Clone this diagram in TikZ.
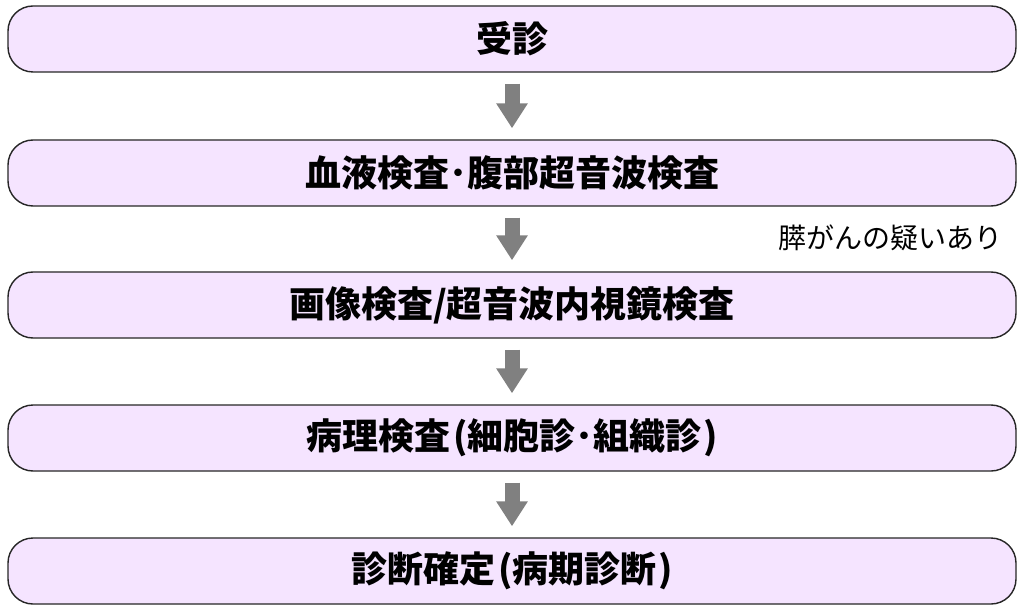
\documentclass[tikz,border=0pt]{standalone}
\usepackage{fontspec}
\setmainfont{Noto Sans CJK JP}
\usepackage{tikz}
\usetikzlibrary{arrows.meta}

\definecolor{stagefill}{RGB}{245,228,255}
\definecolor{flowgray}{RGB}{128,128,128}

\begin{document}
\begin{tikzpicture}[x=1pt, y=-1pt,
    stage/.style={draw=black!85, line width=1.4pt, fill=stagefill,
      rounded corners=25pt, minimum width=1008pt, minimum height=66pt,
      inner sep=0pt, font=\fontsize{36}{40}\selectfont\bfseries},
    flow/.style={draw=flowgray, line width=15pt,
      -{Triangle[width=30pt, length=25pt]}, shorten >=-1pt},
    note/.style={font=\fontsize{28}{32}\selectfont}]
    \useasboundingbox (0,0) rectangle (1024,609);

    \node [stage] (visit) at (512,39) {受診};
    \node [stage] (blood) at (512,173) {血液検査･腹部超音波検査};
    \node [stage] (image) at (512,305) {画像検査/超音波内視鏡検査};
    \node [stage] (patho) at (512,438) {病理検査\kern3pt(細胞診･組織診\kern1pt)};
    \node [stage] (diag) at (512,571) {診断確定\kern3pt(病期診断\kern1pt)};

    \draw [flow] ([yshift=-11pt]visit.south) -- ([yshift=12pt]blood.north);
    \draw [flow] ([yshift=-11pt]blood.south) -- ([yshift=12pt]image.north);
    \draw [flow] ([yshift=-11pt]image.south) -- ([yshift=12pt]patho.north);
    \draw [flow] ([yshift=-11pt]patho.south) -- ([yshift=12pt]diag.north);

    \node [note, anchor=east] (doubt) at (1006,238) {膵がんの疑いあり};
\end{tikzpicture}
\end{document}
